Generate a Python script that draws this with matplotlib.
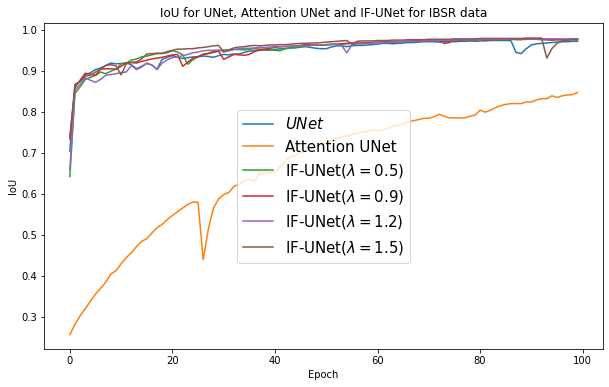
import numpy as np
import matplotlib
matplotlib.use("Agg")
import matplotlib.pyplot as plt

# --- DATA ---
epochs = np.arange(100)

unet = [0.705, 0.868, 0.875, 0.892, 0.896, 0.904, 0.908, 0.914, 0.920, 0.918,
        0.919, 0.920, 0.916, 0.906, 0.912, 0.919, 0.915, 0.905, 0.929, 0.934,
        0.938, 0.934, 0.931, 0.933, 0.935, 0.935, 0.937, 0.936, 0.934, 0.938,
        0.941, 0.940, 0.942, 0.942, 0.946, 0.949, 0.950, 0.951, 0.952, 0.951,
        0.953, 0.955, 0.955, 0.957, 0.957, 0.959, 0.960, 0.958, 0.956, 0.955,
        0.955, 0.959, 0.962, 0.962, 0.960, 0.962, 0.963, 0.963, 0.964, 0.965,
        0.966, 0.968, 0.968, 0.967, 0.968, 0.969, 0.970, 0.970, 0.971, 0.972,
        0.972, 0.972, 0.971, 0.972, 0.973, 0.972, 0.973, 0.973, 0.974, 0.973,
        0.974, 0.974, 0.975, 0.975, 0.975, 0.975, 0.975, 0.946, 0.943, 0.955,
        0.964, 0.967, 0.968, 0.969, 0.970, 0.971, 0.972, 0.972, 0.973, 0.973]

att_unet = [0.257, 0.282, 0.303, 0.320, 0.338, 0.356, 0.370, 0.385, 0.405, 0.413,
            0.430, 0.445, 0.457, 0.472, 0.485, 0.491, 0.505, 0.518, 0.526, 0.538,
            0.548, 0.557, 0.566, 0.575, 0.581, 0.580, 0.440, 0.514, 0.566, 0.588,
            0.599, 0.604, 0.619, 0.624, 0.632, 0.637, 0.631, 0.651, 0.650, 0.652,
            0.655, 0.667, 0.680, 0.692, 0.695, 0.700, 0.705, 0.712, 0.716, 0.720,
            0.726, 0.731, 0.736, 0.739, 0.742, 0.746, 0.749, 0.752, 0.753, 0.756,
            0.755, 0.757, 0.760, 0.766, 0.768, 0.771, 0.777, 0.779, 0.782, 0.785,
            0.785, 0.789, 0.795, 0.790, 0.786, 0.786, 0.786, 0.786, 0.790, 0.793,
            0.805, 0.800, 0.805, 0.811, 0.816, 0.819, 0.821, 0.821, 0.821, 0.825,
            0.825, 0.830, 0.833, 0.833, 0.840, 0.836, 0.840, 0.842, 0.843, 0.848]

if_05 = [0.643, 0.846, 0.862, 0.880, 0.885, 0.890, 0.898, 0.894, 0.900, 0.905,
         0.918, 0.920, 0.927, 0.930, 0.935, 0.937, 0.940, 0.943, 0.943, 0.945,
         0.950, 0.947, 0.940, 0.917, 0.928, 0.935, 0.942, 0.944, 0.948, 0.950,
         0.952, 0.952, 0.953, 0.953, 0.952, 0.953, 0.955, 0.954, 0.953, 0.952,
         0.951, 0.950, 0.955, 0.957, 0.958, 0.960, 0.962, 0.963, 0.964, 0.963,
         0.964, 0.965, 0.966, 0.966, 0.967, 0.968, 0.967, 0.968, 0.969, 0.970,
         0.970, 0.971, 0.971, 0.972, 0.972, 0.972, 0.973, 0.973, 0.974, 0.974,
         0.975, 0.974, 0.975, 0.975, 0.976, 0.976, 0.976, 0.976, 0.977, 0.976,
         0.977, 0.977, 0.977, 0.977, 0.977, 0.978, 0.978, 0.977, 0.977, 0.978,
         0.978, 0.978, 0.977, 0.977, 0.977, 0.977, 0.977, 0.977, 0.977, 0.977]

if_09 = [0.735, 0.860, 0.878, 0.895, 0.893, 0.890, 0.905, 0.906, 0.906, 0.905,
         0.912, 0.920, 0.921, 0.920, 0.924, 0.927, 0.930, 0.932, 0.934, 0.937,
         0.940, 0.941, 0.912, 0.922, 0.932, 0.936, 0.940, 0.943, 0.946, 0.949,
         0.929, 0.935, 0.941, 0.940, 0.939, 0.941, 0.948, 0.952, 0.954, 0.956,
         0.958, 0.960, 0.960, 0.961, 0.962, 0.963, 0.966, 0.965, 0.963, 0.964,
         0.965, 0.966, 0.966, 0.967, 0.968, 0.969, 0.969, 0.969, 0.970, 0.970,
         0.971, 0.971, 0.972, 0.970, 0.972, 0.973, 0.973, 0.974, 0.974, 0.975,
         0.974, 0.975, 0.975, 0.968, 0.970, 0.976, 0.976, 0.977, 0.976, 0.977,
         0.977, 0.976, 0.977, 0.978, 0.977, 0.978, 0.978, 0.978, 0.978, 0.978,
         0.979, 0.978, 0.978, 0.977, 0.976, 0.977, 0.977, 0.977, 0.977, 0.977]

if_12 = [0.660, 0.854, 0.868, 0.884, 0.878, 0.873, 0.880, 0.890, 0.892, 0.894,
         0.897, 0.898, 0.914, 0.904, 0.910, 0.920, 0.915, 0.904, 0.920, 0.928,
         0.933, 0.935, 0.938, 0.941, 0.945, 0.947, 0.950, 0.951, 0.951, 0.952,
         0.948, 0.950, 0.953, 0.955, 0.956, 0.956, 0.957, 0.958, 0.958, 0.959,
         0.960, 0.960, 0.961, 0.961, 0.962, 0.962, 0.963, 0.963, 0.964, 0.964,
         0.965, 0.965, 0.966, 0.963, 0.945, 0.964, 0.967, 0.967, 0.968, 0.969,
         0.970, 0.970, 0.971, 0.971, 0.972, 0.972, 0.973, 0.973, 0.974, 0.974,
         0.975, 0.975, 0.975, 0.976, 0.976, 0.976, 0.977, 0.977, 0.977, 0.977,
         0.977, 0.978, 0.978, 0.978, 0.978, 0.978, 0.979, 0.979, 0.979, 0.979,
         0.979, 0.979, 0.979, 0.979, 0.979, 0.979, 0.979, 0.979, 0.979, 0.979]

if_15 = [0.740, 0.866, 0.875, 0.888, 0.890, 0.898, 0.905, 0.914, 0.916, 0.913,
         0.891, 0.918, 0.922, 0.923, 0.930, 0.942, 0.943, 0.944, 0.944, 0.948,
         0.951, 0.954, 0.954, 0.955, 0.955, 0.957, 0.958, 0.960, 0.962, 0.963,
         0.947, 0.952, 0.957, 0.959, 0.960, 0.962, 0.963, 0.962, 0.963, 0.964,
         0.964, 0.965, 0.965, 0.966, 0.967, 0.968, 0.968, 0.969, 0.969, 0.970,
         0.971, 0.972, 0.973, 0.974, 0.975, 0.966, 0.973, 0.974, 0.974, 0.974,
         0.975, 0.975, 0.975, 0.976, 0.976, 0.976, 0.977, 0.977, 0.977, 0.977,
         0.978, 0.978, 0.978, 0.978, 0.978, 0.979, 0.979, 0.979, 0.979, 0.979,
         0.980, 0.980, 0.980, 0.980, 0.980, 0.980, 0.980, 0.980, 0.980, 0.981,
         0.981, 0.981, 0.981, 0.932, 0.955, 0.968, 0.974, 0.976, 0.978, 0.979]

series = [unet, att_unet, if_05, if_09, if_12, if_15]
labels = ['$UNet$', 'Attention UNet',
          r'IF-UNet($\lambda=0.5$)', r'IF-UNet($\lambda=0.9$)',
          r'IF-UNet($\lambda=1.2$)', r'IF-UNet($\lambda=1.5$)']

# --- PLOT ---
fig = plt.figure(figsize=(609 / 72, 387 / 72), dpi=72)
ax = fig.add_axes([0.073, 0.097, 0.917, 0.843])

for vals, lab in zip(series, labels):
    ax.plot(epochs, vals, label=lab)

ax.set_title('IoU for UNet, Attention UNet and IF-UNet for IBSR data')
ax.set_xlabel('Epoch')
ax.set_ylabel('IoU')
ax.legend(loc='center', fontsize=15)

fig.savefig('out.png', dpi=72)
